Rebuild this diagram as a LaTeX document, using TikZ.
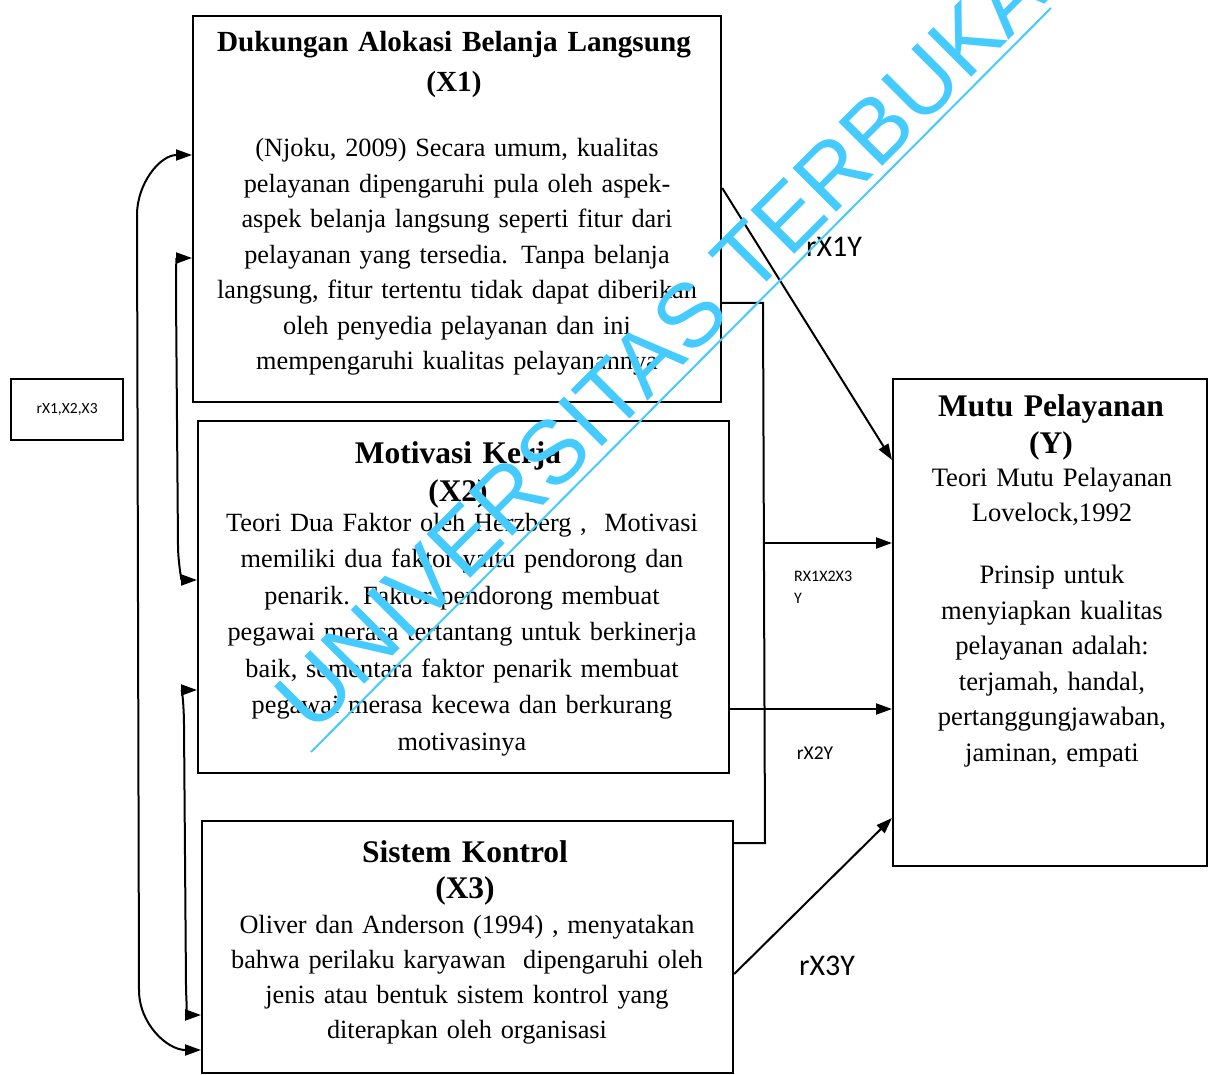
\documentclass[tikz,border=0pt]{standalone}
\usepackage{fontspec}
\setmainfont{Liberation Serif}
\newfontfamily\lblfont{Carlito}
\newfontfamily\wmfont{Liberation Sans}
\usetikzlibrary{arrows.meta,positioning}

\definecolor{wmblue}{RGB}{69,203,255}

\tikzset{
  box/.style={draw, line width=2.2pt, anchor=north west, inner sep=0pt},
  head/.style={align=center, text width=520pt, anchor=base, inner sep=0pt,
    font=\fontsize{31.5}{38}\selectfont\bfseries},
  body/.style={align=center, text width=520pt, anchor=base, inner sep=0pt,
    font=\fontsize{26.3}{35.5}\selectfont},
  lbl/.style={inner sep=0pt, font=\lblfont},
  line/.style={line width=2pt},
  arr/.style={line width=2pt, -{Triangle[length=16pt,width=11pt]}},
  biarr/.style={line width=2pt, {Triangle[length=16pt,width=11pt]}-{Triangle[length=16pt,width=11pt]}},
  wm/.style={inner sep=0pt, text=wmblue, font=\wmfont\fontsize{90}{90}\selectfont}
}

\begin{document}
\begin{tikzpicture}[x=1pt, y=-1pt]
  \useasboundingbox (0,0) rectangle (1208,1075);

  % Boxes
  \node[box, minimum width=528pt, minimum height=386pt] (x1) at (192,15) {};
  \node[box, minimum width=531pt, minimum height=352pt] (x2) at (197,420) {};
  \node[box, minimum width=531pt, minimum height=252pt] (x3) at (201,820) {};
  \node[box, minimum width=314pt, minimum height=487pt] (y) at (892,378) {};
  \node[box, minimum width=112pt, minimum height=61pt] (r) at (10,378) {};

  % Box texts
  \node[head, font=\fontsize{29.2}{40}\selectfont\bfseries] (h1) at (454,52)
    {Dukungan Alokasi Belanja Langsung\\(X1)};
  \node[body] (b1) at (457,157)
    {(Njoku, 2009) Secara umum, kualitas\\
     pelayanan dipengaruhi pula oleh aspek-\\
     aspek belanja langsung seperti fitur dari\\
     pelayanan yang tersedia. Tanpa belanja\\
     langsung, fitur tertentu tidak dapat diberikan\\
     oleh penyedia pelayanan dan ini\\
     mempengaruhi kualitas pelayanannya};

  \node[head] (h2) at (458,463) {Motivasi Kerja\\(X2)};
  \node[body, font=\fontsize{26.3}{36.5}\selectfont] (b2) at (462,531)
    {Teori Dua Faktor oleh Herzberg ,\ \ Motivasi\\
     memiliki dua faktor yaitu pendorong dan\\
     penarik. Faktor pendorong membuat\\
     pegawai merasa tertantang untuk berkinerja\\
     baik, sementara faktor penarik membuat\\
     pegawai merasa kecewa dan berkurang\\
     motivasinya};

  \node[head, font=\fontsize{31.5}{36}\selectfont\bfseries] (h3) at (465,862)
    {Sistem Kontrol\\(X3)};
  \node[body, font=\fontsize{26.3}{35}\selectfont] (b3) at (467,933)
    {Oliver dan Anderson (1994) , menyatakan\\
     bahwa perilaku karyawan\ \ dipengaruhi oleh\\
     jenis atau bentuk sistem kontrol yang\\
     diterapkan oleh organisasi};

  \node[head, text width=300pt] (hy) at (1051,416) {Mutu Pelayanan\\(Y)};
  \node[body, text width=300pt, font=\fontsize{26.6}{35.5}\selectfont] (by) at (1052,486)
    {Teori Mutu Pelayanan\\
     Lovelock,1992\\[26.5pt]
     Prinsip untuk\\
     menyiapkan kualitas\\
     pelayanan adalah:\\
     terjamah, handal,\\
     pertanggungjawaban,\\
     jaminan, empati};

  \node[lbl, font=\lblfont\fontsize{15.5}{15.5}\selectfont] (rt) at (r.center) {rX1,X2,X3};

  % Left connectors
  \draw[biarr] ([yshift=-140pt]x1.north west) to[out=180,in=90] (137,215)
    -- (139,990) to[out=-90,in=180] ([yshift=-230pt]x3.north west);
  \draw[biarr] ([yshift=-243pt]x1.north west) to[out=180,in=90] (176,295)
    -- (178,545) to[out=-90,in=180] ([yshift=-160pt]x2.north west);
  \draw[biarr] ([yshift=-270pt]x2.north west) to[out=180,in=90] (184,725)
    -- (186,985) to[out=-90,in=180] ([yshift=-195pt]x3.north west);

  % Right connectors
  \coordinate (bt) at (763,303);
  \coordinate (bm) at (763,543);
  \coordinate (bb) at (765,843);
  \coordinate (p2) at ([yshift=-289pt]x2.north east);
  \draw[arr] ([yshift=-173pt]x1.north east) -- ([yshift=-82pt]y.north west);
  \draw[line] ([yshift=-288pt]x1.north east) -- (bt) -- (bb)
    -- ([yshift=-23pt]x3.north east);
  \draw[arr] (bm) -- (bm -| y.west);
  \draw[arr] (p2) -- (p2 -| y.west);
  \draw[arr] ([yshift=-154pt]x3.north east) -- ([yshift=-440pt]y.north west);

  % Labels
  \node[lbl, font=\lblfont\fontsize{30}{30}\selectfont] (l1) at (834,247) {rX1Y};
  \node[lbl, font=\lblfont\fontsize{16}{22}\selectfont, align=left, anchor=north west] (l2) at (794,571) {RX1X2X3\\Y};
  \node[lbl, font=\lblfont\fontsize{19.5}{19.5}\selectfont] (l3) at (815,753) {rX2Y};
  \node[lbl, font=\lblfont\fontsize{30}{30}\selectfont] (l4) at (827,966) {rX3Y};

  % Watermark
  \node[wm, rotate=45, anchor=base west] (wmtext) at (313,736) {UNIVERSITAS TERBUKA};
  \draw[wmblue, line width=2pt] (311,752) -- (1051,8);
\end{tikzpicture}
\end{document}
